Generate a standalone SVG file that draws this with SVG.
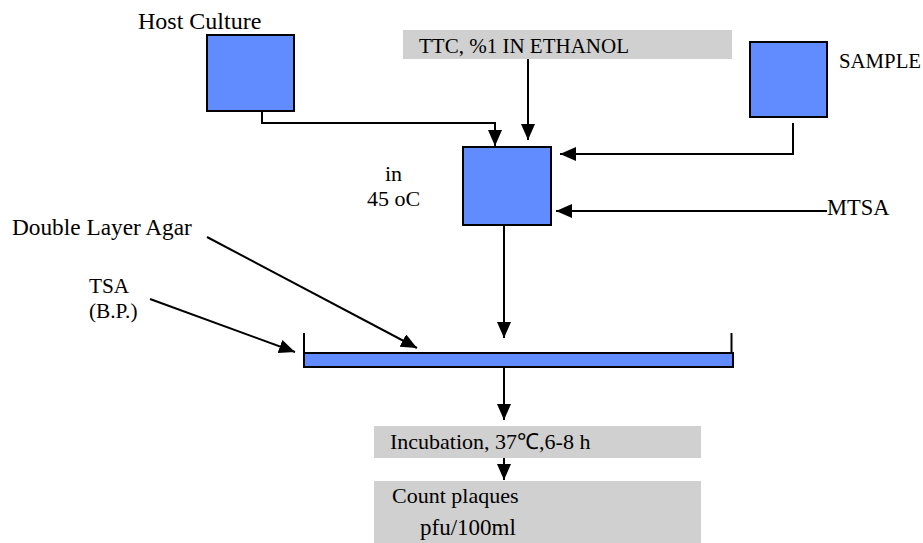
<svg xmlns="http://www.w3.org/2000/svg" width="923" height="543" viewBox="0 0 923 543">
<style>
.box{fill:#608cff;stroke:#000;stroke-width:2}
.gray{fill:#d0d0d0;stroke:none}
.t{font-family:"Liberation Serif","Times New Roman",serif;font-size:22px;fill:#000}
.c{fill:none;stroke:#000;stroke-width:2}
</style>
<defs>
<marker id="ah" markerUnits="userSpaceOnUse" markerWidth="18" markerHeight="16" refX="16" refY="7" orient="auto">
<path d="M0,0 L16,7 L0,14 z" fill="#000"/>
</marker>
</defs>
<rect width="923" height="543" fill="#fff"/>
<g id="host">
<rect class="box" x="207" y="35" width="87" height="76"/>
<text class="t" x="138" y="29" style="font-size:24px">Host Culture</text>
</g>
<g id="ttc">
<rect class="gray" x="403" y="30" width="329" height="29"/>
<text class="t" x="419" y="53" style="font-size:21px">TTC, %1 IN ETHANOL</text>
</g>
<g id="sample">
<rect class="box" x="750" y="42" width="77" height="75"/>
<text class="t" x="839" y="68" style="font-size:20.8px">SAMPLE</text>
</g>
<g id="mix">
<rect class="box" x="463" y="147" width="88" height="78"/>
<text class="t"><tspan x="385" y="181">in</tspan><tspan x="367" y="206">45 oC</tspan></text>
</g>
<g id="mtsa">
<text class="t" x="827" y="215" style="font-size:22.5px">MTSA</text>
</g>
<g id="dla">
<text class="t" x="12" y="235" style="font-size:23.3px">Double Layer Agar</text>
</g>
<g id="tsa">
<text class="t" style="font-size:21.3px"><tspan x="89" y="293">TSA</tspan><tspan x="89" y="318">(B.P.)</tspan></text>
</g>
<g id="plate">
<rect class="box" x="304" y="353" width="429" height="14"/>
<line class="c" x1="304" y1="333" x2="304" y2="354"/>
<line class="c" x1="731.5" y1="333" x2="731.5" y2="354"/>
</g>
<g id="incubation">
<rect class="gray" x="374" y="426" width="327" height="32"/>
<text class="t" x="390" y="449">Incubation, 37℃,6-8 h</text>
</g>
<g id="count">
<rect class="gray" x="374" y="481" width="327" height="62"/>
<text class="t"><tspan x="392" y="503">Count plaques</tspan><tspan x="420" y="535" style="font-size:23px">pfu/100ml</tspan></text>
</g>
<g id="connectors">
<path class="c" d="M262,111 V123 H495 V146" marker-end="url(#ah)"/>
<path class="c" d="M528,59 V140" marker-end="url(#ah)"/>
<path class="c" d="M793,123 V154 H560" marker-end="url(#ah)"/>
<path class="c" d="M827,211 H556" marker-end="url(#ah)"/>
<path class="c" d="M504,225 V338" marker-end="url(#ah)"/>
<path class="c" d="M504,368 V420" marker-end="url(#ah)"/>
<path class="c" d="M504,458 V480" marker-end="url(#ah)"/>
<path class="c" d="M207,237 L417,348" marker-end="url(#ah)"/>
<path class="c" d="M150,299 L295,352" marker-end="url(#ah)"/>
</g>
</svg>
